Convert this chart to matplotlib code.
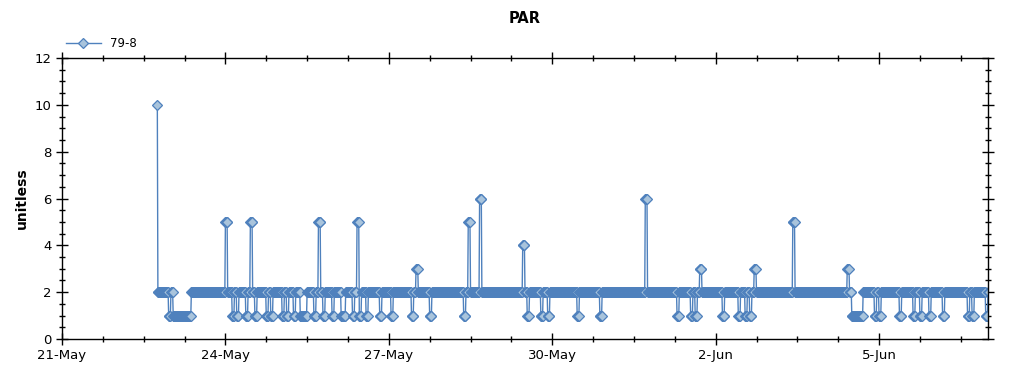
import matplotlib
matplotlib.use("Agg")
import matplotlib.pyplot as plt
from matplotlib.ticker import MultipleLocator
import numpy as np
from datetime import datetime, timedelta

# logger reads every 15 min; events below are in hours from 21-May 00:00
start = datetime(2009, 5, 21)
first_hour = 42
last_hour = 409
base_value = 2
per_hour = 4

# hours where the reading dropped to 1
low_hours = [47, 49, 50, 51, 52, 53, 54, 55, 56, 75, 77, 81, 85, 90, 92, 97, 99,
             102, 105, 106, 107, 111, 115, 119, 123, 124, 128, 131, 134, 140,
             145, 154, 162, 177, 205, 211, 214, 227, 237, 271, 277, 279, 291,
             298, 301, 303, 348, 349, 350, 351, 352, 358, 360, 369, 375, 378,
             382, 388, 399, 401, 407]

# hours with peaks and their values
spike_hours = [42, 72, 83, 113, 130, 156, 179, 184, 203, 257, 281, 305, 322, 346]
spike_values = [10, 5, 5, 5, 5, 3, 5, 6, 4, 6, 3, 3, 5, 3]

n = (last_hour - first_hour) * per_hour + 1
values = np.full(n, base_value, dtype=float)
for h in low_hours:
    i = (h - first_hour) * per_hour
    values[i:i + per_hour] = 1
for h, v in zip(spike_hours, spike_values):
    i = (h - first_hour) * per_hour
    if h == first_hour:
        values[i] = v
    else:
        values[i:i + per_hour] = v
times = [start + timedelta(hours=first_hour, minutes=15 * k) for k in range(n)]

fig = plt.figure(figsize=(10.24, 3.75), dpi=100)
ax = fig.add_axes([62 / 1024, 36 / 375, 926 / 1024, 281 / 375])

line_col = '#4f81bd'
ax.plot(times, values, color=line_col, lw=1.0, marker='D', markersize=4.8,
        markerfacecolor='#a9c4dc', markeredgecolor=line_col, markeredgewidth=0.9,
        label='79-8')

ax.set_xlim(start, start + timedelta(days=17))
ax.set_ylim(0, 12)
ax.yaxis.set_major_locator(MultipleLocator(2))
ax.yaxis.set_minor_locator(MultipleLocator(0.5))

ticks = [start + timedelta(days=3 * i) for i in range(6)]
ax.set_xticks(ticks)
ax.set_xticklabels(['21-May', '24-May', '27-May', '30-May', '2-Jun', '5-Jun'])
minor = [start + timedelta(hours=18 * i) for i in range(23)]
ax.set_xticks(minor, minor=True)

ax.tick_params(which='major', direction='inout', length=8, width=1, labelsize=9.5,
               top=True, right=True, labeltop=False, labelright=False)
ax.tick_params(which='minor', direction='inout', length=5, width=1,
               top=True, right=True)
for s in ax.spines.values():
    s.set_linewidth(1)

ax.set_ylabel('unitless', fontsize=10, fontweight='bold')
ax.set_title('PAR', fontsize=10.5, fontweight='bold', pad=25)

ax.legend(loc='lower left', bbox_to_anchor=(-0.005, 1.0), frameon=False,
          fontsize=8.5, handlelength=3, borderaxespad=0.3)

fig.savefig('out.png', dpi=100)
